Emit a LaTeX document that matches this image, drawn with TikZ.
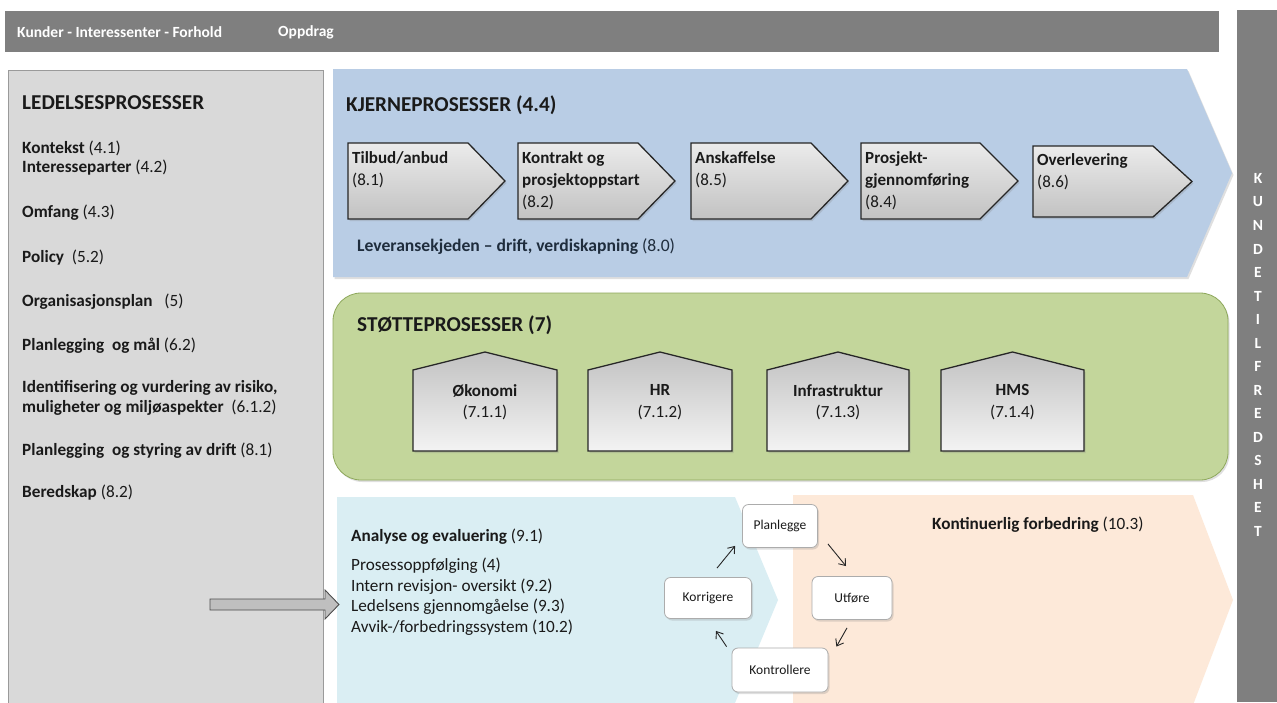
\documentclass[tikz,border=0pt]{standalone}
\usepackage{fontspec}
\setmainfont{Carlito}
\usetikzlibrary{shadows,arrows.meta}
\definecolor{barGray}{HTML}{7F7F7F}
\definecolor{leftGray}{HTML}{D9D9D9}
\definecolor{leftBorder}{HTML}{9A9A9A}
\definecolor{coreBlue}{HTML}{B9CDE5}
\definecolor{supGreen}{HTML}{C3D69B}
\definecolor{supGreenBorder}{HTML}{8EA85C}
\definecolor{anaBlue}{HTML}{DAEEF3}
\definecolor{kfPeach}{HTML}{FDE9D9}
\definecolor{txt}{HTML}{1A1A1A}
\definecolor{navytxt}{HTML}{1F2D3D}
\definecolor{chevTop}{HTML}{EBEBEB}
\definecolor{chevBot}{HTML}{C2C2C2}
\definecolor{arrGray}{HTML}{BFBFBF}
\tikzset{
  softshadow/.style={drop shadow={opacity=0.25, shadow xshift=1.5pt, shadow yshift=-2pt}},
  bartext/.style={font=\bfseries\fontsize{15.5}{18}\selectfont, text=white, anchor=west, inner sep=0},
  sideletter/.style={font=\bfseries\fontsize{15.5}{18}\selectfont, text=white, inner sep=0},
  hdr/.style={font=\bfseries\fontsize{21.2}{24}\selectfont, text=txt, anchor=west, inner sep=0},
  item/.style={font=\fontsize{17.2}{20}\selectfont, text=txt, anchor=west, inner sep=0, align=left},
  chevtext/.style={font=\fontsize{17}{22}\selectfont, text=txt, anchor=north west, inner sep=0, align=left},
  housetext/.style={font=\fontsize{17}{21.5}\selectfont, text=txt, inner sep=0, align=center},
  chevbox/.style={draw=black!85, line width=1.3pt, top color=chevTop, bottom color=chevBot, softshadow},
  housebox/.style={draw=black!85, line width=1.3pt, top color=chevBot, bottom color=chevTop!60!white, softshadow},
  pdca/.style={draw=gray!65, line width=0.8pt, fill=white, rounded corners=6pt, inner sep=0,
     font=\fontsize{13.5}{16}\selectfont, text=txt, softshadow},
  pdcaarrow/.style={draw=black!85, line width=0.9pt, -{Straight Barb[length=6pt,width=9pt]}}
}
\begin{document}
\begin{tikzpicture}[x=1pt,y=-1pt]
\useasboundingbox (0,0) rectangle (1277,702);
\fill[white] (0,0) rectangle (1277,702);

% top bar
\fill[barGray] (5,11) rectangle (1219,52);
\node[bartext] (kif) at (17,32) {Kunder - Interessenter - Forhold};
\node[bartext] (oppdrag) at (278,32) {Oppdrag};

% right bar
\fill[barGray] (1237,10) rectangle (1277,702);
\foreach \l [count=\i] in {K,U,N,D,E,T,I,L,F,R,E,D,S,H,E,T}
  \node[sideletter] (kt\i) at (1258,{178.5+(\i-1)*23.5}) {\l};

% left panel
\draw[draw=leftBorder, line width=0.8pt, fill=leftGray] (8,70) rectangle (323,706);
\node[hdr] (ledelse) at (22,103) {LEDELSESPROSESSER};
\node[item] (l1) at (22,148) {\textbf{Kontekst} (4.1)};
\node[item] (l2) at (22,168) {\textbf{Interesseparter} (4.2)};
\node[item] (l3) at (22,213) {\textbf{Omfang} (4.3)};
\node[item] (l4) at (22,258) {\textbf{Policy}\ \ (5.2)};
\node[item] (l5) at (22,302) {\textbf{Organisasjonsplan}\ \ \ (5)};
\node[item] (l6) at (22,346) {\textbf{Planlegging\ \ og mål} (6.2)};
\node[item] (l7) at (22,398) {\textbf{Identifisering og vurdering av risiko,}\\\textbf{muligheter og miljøaspekter}\ \ (6.1.2)};
\node[item] (l8) at (22,451) {\textbf{Planlegging\ \ og styring av drift} (8.1)};
\node[item] (l9) at (22,493) {\textbf{Beredskap} (8.2)};

% core processes arrow
\fill[coreBlue, softshadow] (333,69) -- (1187,69) -- (1232,173) -- (1187,277) -- (333,277) -- cycle;
\node[hdr] (kjerne) at (346,105) {KJERNEPROSESSER (4.4)};

\path[chevbox] (348,143) -- (468,143) -- (505,181) -- (468,219) -- (348,219) -- cycle;
\path[chevbox] (518,143) -- (638,143) -- (675,181) -- (638,219) -- (518,219) -- cycle;
\path[chevbox] (691,143) -- (811,143) -- (848,181) -- (811,219) -- (691,219) -- cycle;
\path[chevbox] (861,143) -- (980,143) -- (1018,181) -- (980,219) -- (861,219) -- cycle;
\path[chevbox] (1033,146) -- (1153,146) -- (1192,181.5) -- (1153,217) -- (1033,217) -- cycle;

\node[chevtext] (c1) at (352,151) {\textbf{Tilbud/anbud}\\(8.1)};
\node[chevtext] (c2) at (522,151) {\textbf{Kontrakt og}\\\textbf{prosjektoppstart}\\(8.2)};
\node[chevtext] (c3) at (695,151) {\textbf{Anskaffelse}\\(8.5)};
\node[chevtext] (c4) at (865,151) {\textbf{Prosjekt-}\\\textbf{gjennomføring}\\(8.4)};
\node[chevtext] (c5) at (1037,153) {\textbf{Overlevering}\\(8.6)};

\node[item, text=navytxt, font=\fontsize{17.6}{20}\selectfont] (lev) at (357,247) {\textbf{Leveransekjeden -- drift, verdiskapning} (8.0)};

% support processes
\draw[draw=supGreenBorder, line width=0.8pt, fill=supGreen, rounded corners=28pt, softshadow] (333,293) rectangle (1228,480);
\node[hdr] (stotte) at (357,325) {STØTTEPROSESSER (7)};

\path[housebox] (413,451) -- (413,370) -- (485,352) -- (557,370) -- (557,451) -- cycle;
\path[housebox] (588,451) -- (588,370) -- (660,352) -- (732,370) -- (732,451) -- cycle;
\path[housebox] (767,451) -- (767,370) -- (838,352) -- (909,370) -- (909,451) -- cycle;
\path[housebox] (941,451) -- (941,370) -- (1012.5,352) -- (1084,370) -- (1084,451) -- cycle;

\node[housetext] (h1) at (485,402) {\textbf{Økonomi}\\(7.1.1)};
\node[housetext] (h2) at (660,402) {\textbf{HR}\\(7.1.2)};
\node[housetext] (h3) at (838,402) {\textbf{Infrastruktur}\\(7.1.3)};
\node[housetext] (h4) at (1012.5,402) {\textbf{HMS}\\(7.1.4)};

% analysis and improvement
\fill[kfPeach] (793,495) -- (1193,495) -- (1233,600) -- (1193,705) -- (793,705) -- cycle;
\fill[anaBlue] (337,497) -- (735,497) -- (778,600) -- (735,703) -- (337,703) -- cycle;

\node[item] (ana) at (351,537) {\textbf{Analyse og evaluering} (9.1)};
\node[item] (a1) at (351,566) {Prosessoppfølging (4)};
\node[item] (a2) at (351,587) {Intern revisjon- oversikt (9.2)};
\node[item] (a3) at (351,607) {Ledelsens gjennomgåelse (9.3)};
\node[item] (a4) at (351,628) {Avvik-/forbedringssystem (10.2)};

\node[item] (kf) at (932,525) {\textbf{Kontinuerlig forbedring} (10.3)};

% input arrow
\draw[draw=black!70, line width=0.9pt, fill=arrGray] (210,599) -- (325,599) -- (325,590) -- (339,604.5) -- (325,619) -- (325,610) -- (210,610) -- cycle;

% PDCA
\node[pdca, minimum width=75pt, minimum height=43pt] (plan) at (780,526) {Planlegge};
\node[pdca, minimum width=87pt, minimum height=41pt] (korr) at (708,598) {Korrigere};
\node[pdca, minimum width=80pt, minimum height=43pt] (utf) at (852,598) {Utføre};
\node[pdca, minimum width=96pt, minimum height=44pt] (kont) at (780,670) {Kontrollere};

\draw[pdcaarrow] ([shift={(9,-9)}]korr.north) -- ([shift={(-7,-2)}]plan.south west);
\draw[pdcaarrow] ([shift={(10,-4)}]plan.south east) -- ([shift={(-6,-10)}]utf.north);
\draw[pdcaarrow] ([shift={(-5,8)}]utf.south) -- ([shift={(8,-1)}]kont.north east);
\draw[pdcaarrow] ([shift={(-5,-1)}]kont.north west) -- ([shift={(8,12)}]korr.south);
\end{tikzpicture}
\end{document}
